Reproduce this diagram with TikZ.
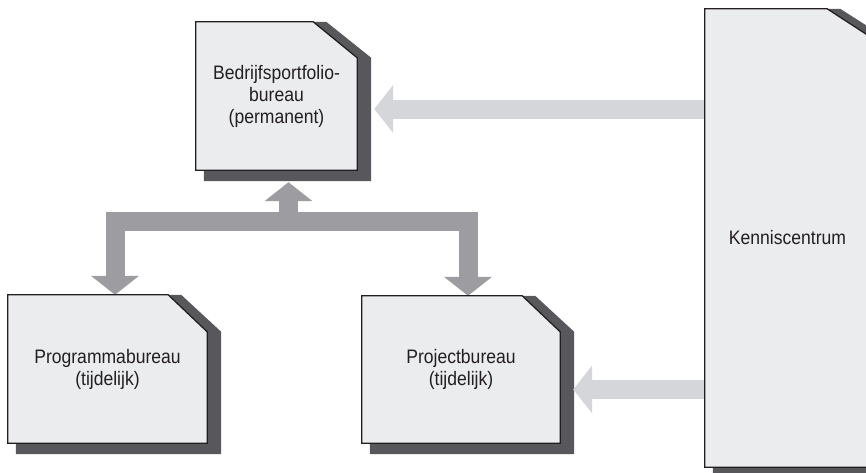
\documentclass[tikz,border=0pt]{standalone}
\usepackage{fontspec}
\setmainfont{Liberation Sans}[FakeStretch=0.9]
\usetikzlibrary{calc,arrows.meta,backgrounds}
\definecolor{boxfill}{HTML}{EBECEE}
\definecolor{boxline}{HTML}{231F20}
\definecolor{shadowgrey}{HTML}{58575C}
\definecolor{darkarrow}{HTML}{9D9CA1}
\definecolor{lightarrow}{HTML}{D5D6DA}

\begin{document}
\begin{tikzpicture}
      [   x=1pt,y=-1pt,
          office/.style={inner sep=0pt,align=center,text=boxline,
                         font=\fontsize{19.5}{22}\selectfont},
          fat/.style={draw=#1,line width=19pt,line join=miter},
          fathead/.tip={Triangle[width=48pt,length=19pt,line width=0pt]},
      ]
          \useasboundingbox (0,0) rectangle (866,472);
          \node[office,minimum width=161pt,minimum height=148pt] (bpb) at (276.5,96) {Bedrijfsportfolio-\\bureau\\(permanent)};
          \node[office,minimum width=199pt,minimum height=148pt] (pgb) at (107.5,369) {Programmabureau\\(tijdelijk)};
          \node[office,minimum width=198pt,minimum height=147pt] (pjb) at (461,369.5) {Projectbureau\\(tijdelijk)};
          \node[office,minimum width=165pt,minimum height=458pt] (kc) at (787.5,238) {Kenniscentrum};
          \begin{pgfonlayer}{background}
          % shadows behind the offices
          \foreach \n/\cx/\cy in {bpb/44/36,pgb/39/37,pjb/38/36,kc/43/28}
          {   \fill[shadowgrey] ($(\n.south west)+(8,11)$) -- ($(\n.south east)+(14,11)$) -- ($(\n.north east)+(14,\cy)$)
                -- ($(\n.north east)+({13-\cx},0)$) -- ($(\n.north east)+(-\cx,0)$) -- ($(\n.south west)+(8,0)$) -- cycle;
          }
          \coordinate (bartop) at ($(bpb.south)+(12,12)$);
          \coordinate (bar) at ($(bpb.south)+(12,51)$);
          \draw[fat=darkarrow,fathead-fathead] ($(pgb.north)+(7.5,0)$) |- (bar) -| ($(pjb.north)+(7,0)$);
          \draw[fat=darkarrow,-fathead] (bar) -- (bartop);
          \coordinate (bpbtip) at ($(bpb.east)+(17,13)$);
          \coordinate (pjbtip) at ($(pjb.east)+(13,20)$);
          \draw[fat=lightarrow,-fathead] (kc.west |- bpbtip) -- (bpbtip);
          \draw[fat=lightarrow,-fathead] (kc.west |- pjbtip) -- (pjbtip);
          % the offices themselves
          \foreach \n/\cx/\cy in {bpb/44/36,pgb/39/37,pjb/38/36,kc/43/28}
          {   \filldraw[fill=boxfill,draw=boxline,line width=1.3pt,line join=miter] (\n.south west) -- (\n.south east)
                -- ($(\n.north east)+(0,\cy)$) -- ($(\n.north east)+(-\cx,0)$) -- (\n.north west) -- cycle;
          }
          \end{pgfonlayer}
    \end{tikzpicture}
\end{document}
